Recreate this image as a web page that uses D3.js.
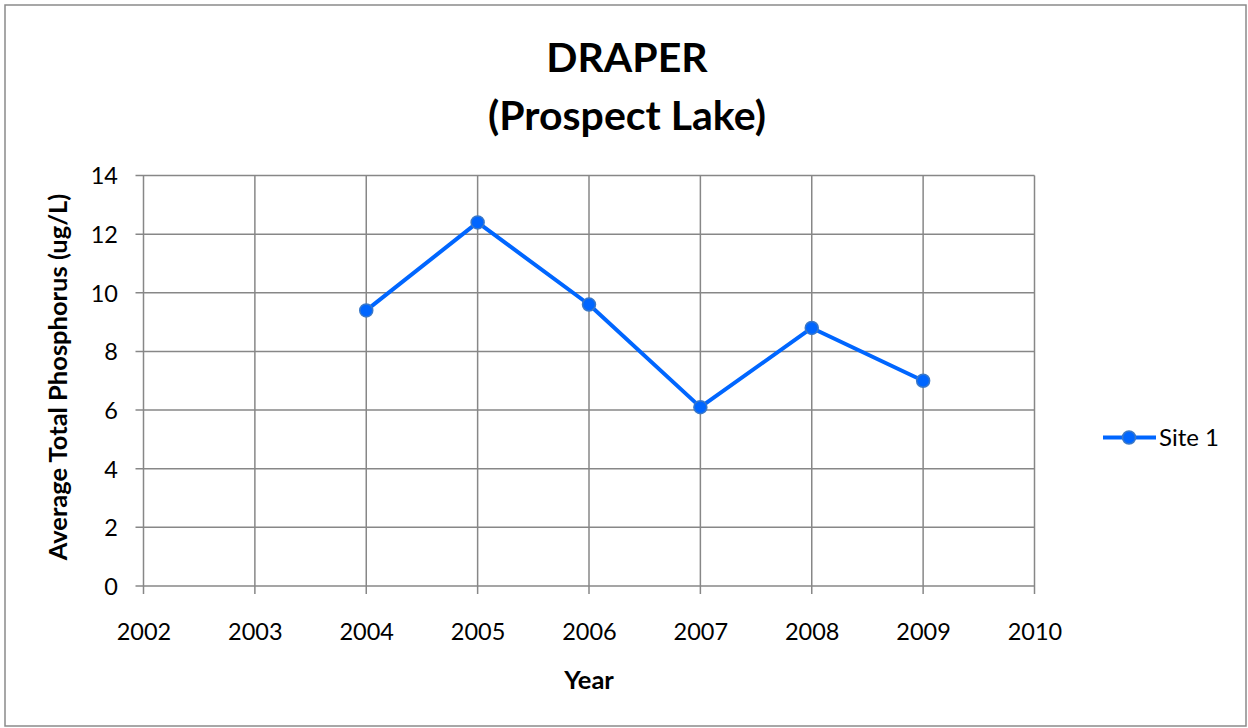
<!DOCTYPE html>
<html><head><meta charset="utf-8">
<script src="https://cdn.jsdelivr.net/npm/d3@7"></script>
<style>body{margin:0;background:#fff;} svg{display:block;font-family:Lato,"Open Sans",sans-serif;}</style>
</head><body><svg id="c" width="1248" height="728"></svg>
<script>
const years = [2004, 2005, 2006, 2007, 2008, 2009];
const site1 = [9.4, 12.4, 9.6, 6.1, 8.8, 7.0];
const xTicks = [2002, 2003, 2004, 2005, 2006, 2007, 2008, 2009, 2010];
const yTicks = [0, 2, 4, 6, 8, 10, 12, 14];
const titleLines = ["DRAPER", "(Prospect Lake)"];
const seriesName = "Site 1";

const svg = d3.select("#c");
svg.append("rect").attr("x",5).attr("y",5).attr("width",1241).attr("height",721)
  .attr("fill","#fff").attr("stroke","#8a8a8a").attr("stroke-width",1.5);

const x = d3.scaleLinear().domain([2002,2010]).range([143.5,1034.5]);
const y = d3.scaleLinear().domain([0,14]).range([586,175.5]);
const grid = "#878787";

const g = svg.append("g");
g.selectAll(".hg").data(yTicks).join("line")
  .attr("x1",x(2002)-8).attr("x2",x(2010)).attr("y1",d=>y(d)).attr("y2",d=>y(d))
  .attr("stroke",grid).attr("stroke-width",1.5);
g.selectAll(".vg").data(xTicks).join("line")
  .attr("x1",d=>x(d)).attr("x2",d=>x(d)).attr("y1",y(14)).attr("y2",y(0)+8)
  .attr("stroke",grid).attr("stroke-width",1.5);

const xAxis = d3.axisBottom(x).tickValues(xTicks).tickFormat(d3.format("d")).tickSize(0).tickPadding(0);
const xa = svg.append("g").attr("transform",`translate(0,${y(0)+54})`).call(xAxis);
xa.select(".domain").remove();
xa.selectAll("text").attr("font-size",23.5).attr("fill","#000").attr("font-family","Lato, 'Open Sans', sans-serif").attr("dy",0);

const yAxis = d3.axisLeft(y).tickValues(yTicks).tickSize(0).tickPadding(0);
const ya = svg.append("g").attr("transform",`translate(118,0)`).call(yAxis);
ya.select(".domain").remove();
ya.selectAll("text").attr("font-size",23.5).attr("fill","#000").attr("font-family","Lato, 'Open Sans', sans-serif").attr("dy","0.36em");

const line = d3.line().x((d,i)=>x(years[i])).y(d=>y(d));
svg.append("path").datum(site1).attr("d",line).attr("fill","none")
  .attr("stroke","#0066ff").attr("stroke-width",4).attr("stroke-linejoin","round");
svg.selectAll(".pt").data(site1).join("circle")
  .attr("cx",(d,i)=>x(years[i])).attr("cy",d=>y(d)).attr("r",6.5)
  .attr("fill","#0066ff").attr("stroke","#3a78c8").attr("stroke-width",1.5);

svg.append("text").attr("x",627).attr("y",72).attr("text-anchor","middle")
  .attr("font-size",41).attr("font-weight","bold").text(titleLines[0]);
svg.append("text").attr("x",627).attr("y",130).attr("text-anchor","middle")
  .attr("font-size",41).attr("font-weight","bold").text(titleLines[1]);

svg.append("text").attr("x",589).attr("y",689).attr("text-anchor","middle")
  .attr("font-size",25.5).attr("font-weight","bold").text("Year");
svg.append("text").attr("transform","translate(67,377) rotate(-90)").attr("text-anchor","middle")
  .attr("font-size",25.5).attr("font-weight","bold").text("Average Total Phosphorus (ug/L)");

svg.append("line").attr("x1",1103).attr("x2",1156).attr("y1",437.5).attr("y2",437.5)
  .attr("stroke","#0066ff").attr("stroke-width",4);
svg.append("circle").attr("cx",1129).attr("cy",437.5).attr("r",6.5)
  .attr("fill","#0066ff").attr("stroke","#3a78c8").attr("stroke-width",1.5);
svg.append("text").attr("x",1159).attr("y",446).attr("font-size",24).text(seriesName);
</script></body></html>
